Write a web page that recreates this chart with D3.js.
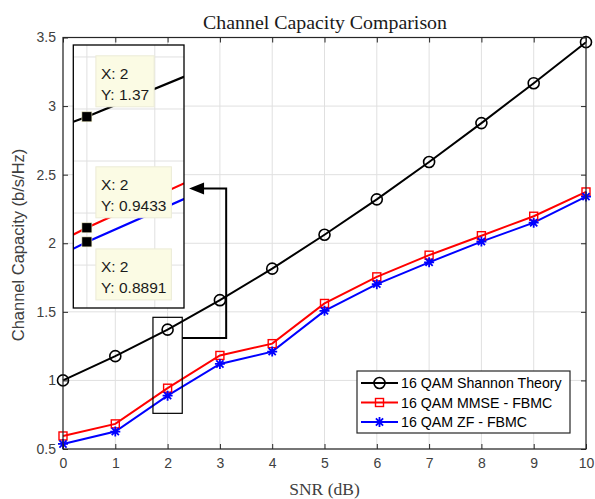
<!DOCTYPE html>
<html><head><meta charset="utf-8">
<script src="https://cdn.jsdelivr.net/npm/d3@7"></script>
<style>body{margin:0;background:#fff}svg{display:block}</style>
</head><body>
<svg id="c" width="595" height="499"></svg>
<script>
// ---- data ----
const snr = [0,1,2,3,4,5,6,7,8,9,10];
const shannon = [1.0, 1.177, 1.37, 1.585, 1.815, 2.062, 2.32, 2.592, 2.876, 3.167, 3.466];
const mmse = [0.595, 0.683, 0.9433, 1.182, 1.268, 1.561, 1.755, 1.913, 2.055, 2.197, 2.374];
const zf = [0.537, 0.627, 0.8891, 1.12, 1.21, 1.507, 1.702, 1.861, 2.012, 2.15, 2.34];
const seriesNames = ["16 QAM Shannon Theory", "16 QAM MMSE - FBMC", "16 QAM ZF - FBMC"];
const seriesColors = ["#000000", "#ff0000", "#0000ff"];
const seriesMarkers = ["circle", "square", "star"];
const xTicks = [0,1,2,3,4,5,6,7,8,9,10];
const yTicks = [0.5,1,1.5,2,2.5,3,3.5];
const insetXDomain = [1.90, 2.715];
const insetYDomain = [0.635, 1.646];
const insetXTicks = [2, 2.5];
const insetYTicks = [0.8, 1.0, 1.2, 1.4, 1.6];
const tipIndex = 2;
const zoomBoxX = [1.72, 2.28];
const zoomBoxY = [0.76, 1.46];
const arrowPathX = [3.12, 2.41];
const arrowPathY = [1.31, 2.40];

const allSeries = [shannon, mmse, zf];
const svg = d3.select("#c");
const axisColor = "#262626";
const gridColor = "#e0e0e0";

const x = d3.scaleLinear().domain([0,10]).range([63,586]);
const y = d3.scaleLinear().domain([0.5,3.5]).range([449,37.5]);

// grid
const grid = svg.append("g");
grid.selectAll(".gx").data(xTicks).enter().append("line")
  .attr("x1", d=>x(d)).attr("x2", d=>x(d)).attr("y1", y(0.5)).attr("y2", y(3.5))
  .attr("stroke", gridColor).attr("stroke-width", 1);
grid.selectAll(".gy").data(yTicks).enter().append("line")
  .attr("y1", d=>y(d)).attr("y2", d=>y(d)).attr("x1", x(0)).attr("x2", x(10))
  .attr("stroke", gridColor).attr("stroke-width", 1);

// markers
function drawMarker(g, type, cx, cy, color) {
  if (type === "circle") {
    g.append("circle").attr("cx", cx).attr("cy", cy).attr("r", 5.5)
      .attr("fill", "none").attr("stroke", color).attr("stroke-width", 1.6);
  } else if (type === "square") {
    g.append("rect").attr("x", cx-4).attr("y", cy-4).attr("width", 8).attr("height", 8)
      .attr("fill", "none").attr("stroke", color).attr("stroke-width", 1.4);
  } else {
    const r = 5, d = r*0.72;
    g.append("path")
      .attr("d", `M${cx-r},${cy}L${cx+r},${cy}M${cx},${cy-r}L${cx},${cy+r}M${cx-d},${cy-d}L${cx+d},${cy+d}M${cx-d},${cy+d}L${cx+d},${cy-d}`)
      .attr("stroke", color).attr("stroke-width", 1.8).attr("fill", "none");
  }
}

const line = d3.line().x((d,i)=>x(snr[i])).y(d=>y(d));
const plotG = svg.append("g");
allSeries.forEach((s, k) => {
  plotG.append("path").datum(s).attr("d", line)
    .attr("fill", "none").attr("stroke", seriesColors[k]).attr("stroke-width", 2);
});
allSeries.forEach((s, k) => {
  s.forEach((v, i) => drawMarker(plotG, seriesMarkers[k], x(snr[i]), y(v), seriesColors[k]));
});

// axes
const fmt = d => String(d);
const axB = svg.append("g").attr("transform", `translate(0,${y(0.5)})`)
  .call(d3.axisBottom(x).tickValues(xTicks).tickFormat(fmt).tickSize(-5).tickSizeOuter(0).tickPadding(9));
const axL = svg.append("g").attr("transform", `translate(${x(0)},0)`)
  .call(d3.axisLeft(y).tickValues(yTicks).tickFormat(fmt).tickSize(-5).tickSizeOuter(0).tickPadding(7));
const axT = svg.append("g").attr("transform", `translate(0,${y(3.5)})`)
  .call(d3.axisTop(x).tickValues(xTicks).tickFormat("").tickSize(-5).tickSizeOuter(0));
const axR = svg.append("g").attr("transform", `translate(${x(10)},0)`)
  .call(d3.axisRight(y).tickValues(yTicks).tickFormat("").tickSize(-5).tickSizeOuter(0));
[axB, axL, axT, axR].forEach(a => {
  a.select(".domain").remove();
  a.selectAll(".tick line").attr("stroke", axisColor);
  a.selectAll(".tick text").attr("fill", "#404040")
    .style("font-family", "'Liberation Sans', Arial, sans-serif").style("font-size", "14px");
});
svg.append("rect").attr("x", x(0)).attr("y", y(3.5)).attr("width", x(10)-x(0)).attr("height", y(0.5)-y(3.5))
  .attr("fill", "none").attr("stroke", axisColor).attr("stroke-width", 1.2);

// zoom box on main axes
svg.append("rect")
  .attr("x", x(zoomBoxX[0])).attr("y", y(zoomBoxY[1]))
  .attr("width", x(zoomBoxX[1]) - x(zoomBoxX[0])).attr("height", y(zoomBoxY[0]) - y(zoomBoxY[1]))
  .attr("fill", "none").attr("stroke", "#000").attr("stroke-width", 1.2);

// arrow
const ax0 = x(zoomBoxX[1]), ay0 = y(arrowPathY[0]);
const ax1 = x(arrowPathX[0]), ay1 = y(arrowPathY[1]);
const tipX = x(arrowPathX[1]);
svg.append("path")
  .attr("d", `M${ax0},${ay0}H${ax1}V${ay1}H${tipX+14}`)
  .attr("fill", "none").attr("stroke", "#000").attr("stroke-width", 2);
svg.append("path")
  .attr("d", `M${tipX},${ay1}L${tipX+15},${ay1-6}L${tipX+15},${ay1+6}Z`)
  .attr("fill", "#000");

// inset axes
const ix = d3.scaleLinear().domain(insetXDomain).range([73.3, 184]);
const iy = d3.scaleLinear().domain(insetYDomain).range([308, 45]);
const inset = svg.append("g");
inset.append("rect").attr("x", ix.range()[0]).attr("y", iy.range()[1])
  .attr("width", ix.range()[1]-ix.range()[0]).attr("height", iy.range()[0]-iy.range()[1])
  .attr("fill", "#fff");
svg.append("defs").append("clipPath").attr("id", "iclip").append("rect")
  .attr("x", ix.range()[0]).attr("y", iy.range()[1])
  .attr("width", ix.range()[1]-ix.range()[0]).attr("height", iy.range()[0]-iy.range()[1]);
const ig = inset.append("g").attr("clip-path", "url(#iclip)");
ig.selectAll(".igx").data(insetXTicks).enter().append("line")
  .attr("x1", d=>ix(d)).attr("x2", d=>ix(d)).attr("y1", iy.range()[0]).attr("y2", iy.range()[1])
  .attr("stroke", gridColor);
ig.selectAll(".igy").data(insetYTicks).enter().append("line")
  .attr("y1", d=>iy(d)).attr("y2", d=>iy(d)).attr("x1", ix.range()[0]).attr("x2", ix.range()[1])
  .attr("stroke", gridColor);
const iline = d3.line().x((d,i)=>ix(snr[i])).y(d=>iy(d));
allSeries.forEach((s, k) => {
  ig.append("path").datum(s).attr("d", iline)
    .attr("fill", "none").attr("stroke", seriesColors[k]).attr("stroke-width", 2.2);
});
inset.append("rect").attr("x", ix.range()[0]).attr("y", iy.range()[1])
  .attr("width", ix.range()[1]-ix.range()[0]).attr("height", iy.range()[0]-iy.range()[1])
  .attr("fill", "none").attr("stroke", "#000").attr("stroke-width", 1.3);

// datatips
const tipOffsets = [-61, -61, 7];
allSeries.forEach((s, k) => {
  const px = ix(snr[tipIndex]), py = iy(s[tipIndex]);
  const bx = px + 9, by = py + tipOffsets[k];
  const tg = inset.append("g");
  const box = tg.append("rect").attr("x", bx).attr("y", by).attr("height", 51)
    .attr("fill", "#fbfbe4").attr("stroke", "#ecebd6").attr("stroke-width", 1);
  const t1 = tg.append("text").attr("x", bx+5).attr("y", by+23).text("X: " + snr[tipIndex]);
  const t2 = tg.append("text").attr("x", bx+5).attr("y", by+44).text("Y: " + s[tipIndex]);
  [t1,t2].forEach(t => t.attr("fill", "#1a1a1a")
    .style("font-family", "'Liberation Sans', Arial, sans-serif").style("font-size", "15.5px"));
  const w = Math.max(t1.node().getComputedTextLength(), t2.node().getComputedTextLength()) + 10;
  box.attr("width", w);
});
allSeries.forEach((s, k) => {
  const px = ix(snr[tipIndex]), py = iy(s[tipIndex]);
  inset.append("rect").attr("x", px-5).attr("y", py-5).attr("width", 10).attr("height", 10)
    .attr("fill", "#000").attr("stroke", "#f4f0c8").attr("stroke-width", 0.6);
});

// legend
const lg = svg.append("g");
lg.append("rect").attr("x", 357).attr("y", 371).attr("width", 213).attr("height", 62)
  .attr("fill", "#fff").attr("stroke", axisColor).attr("stroke-width", 1.2);
seriesNames.forEach((name, k) => {
  const ry = 383 + k*19.5;
  lg.append("line").attr("x1", 361).attr("x2", 398).attr("y1", ry).attr("y2", ry)
    .attr("stroke", seriesColors[k]).attr("stroke-width", 2);
  drawMarker(lg, seriesMarkers[k], 379.5, ry, seriesColors[k]);
  lg.append("text").attr("x", 401).attr("y", ry).attr("dy", "0.36em").text(name)
    .attr("fill", "#000").style("font-family", "'Liberation Sans', Arial, sans-serif").style("font-size", "14.2px");
});

// title and labels
svg.append("text").attr("x", 325).attr("y", 28.5).attr("text-anchor", "middle")
  .attr("textLength", 244).attr("lengthAdjust", "spacingAndGlyphs")
  .text("Channel Capacity Comparison").attr("fill", "#1a1a1a")
  .style("font-family", "'Liberation Serif', 'Times New Roman', serif").style("font-size", "19px");
svg.append("text").attr("x", 324.5).attr("y", 495).attr("text-anchor", "middle")
  .text("SNR (dB)").attr("fill", "#404040")
  .style("font-family", "'Liberation Serif', 'Times New Roman', serif").style("font-size", "17.5px");
svg.append("text").attr("transform", "translate(24,245) rotate(-90)").attr("text-anchor", "middle")
  .text("Channel Capacity (b/s/Hz)").attr("fill", "#404040")
  .style("font-family", "'Liberation Sans', Arial, sans-serif").style("font-size", "16.5px");
</script>
</body></html>
